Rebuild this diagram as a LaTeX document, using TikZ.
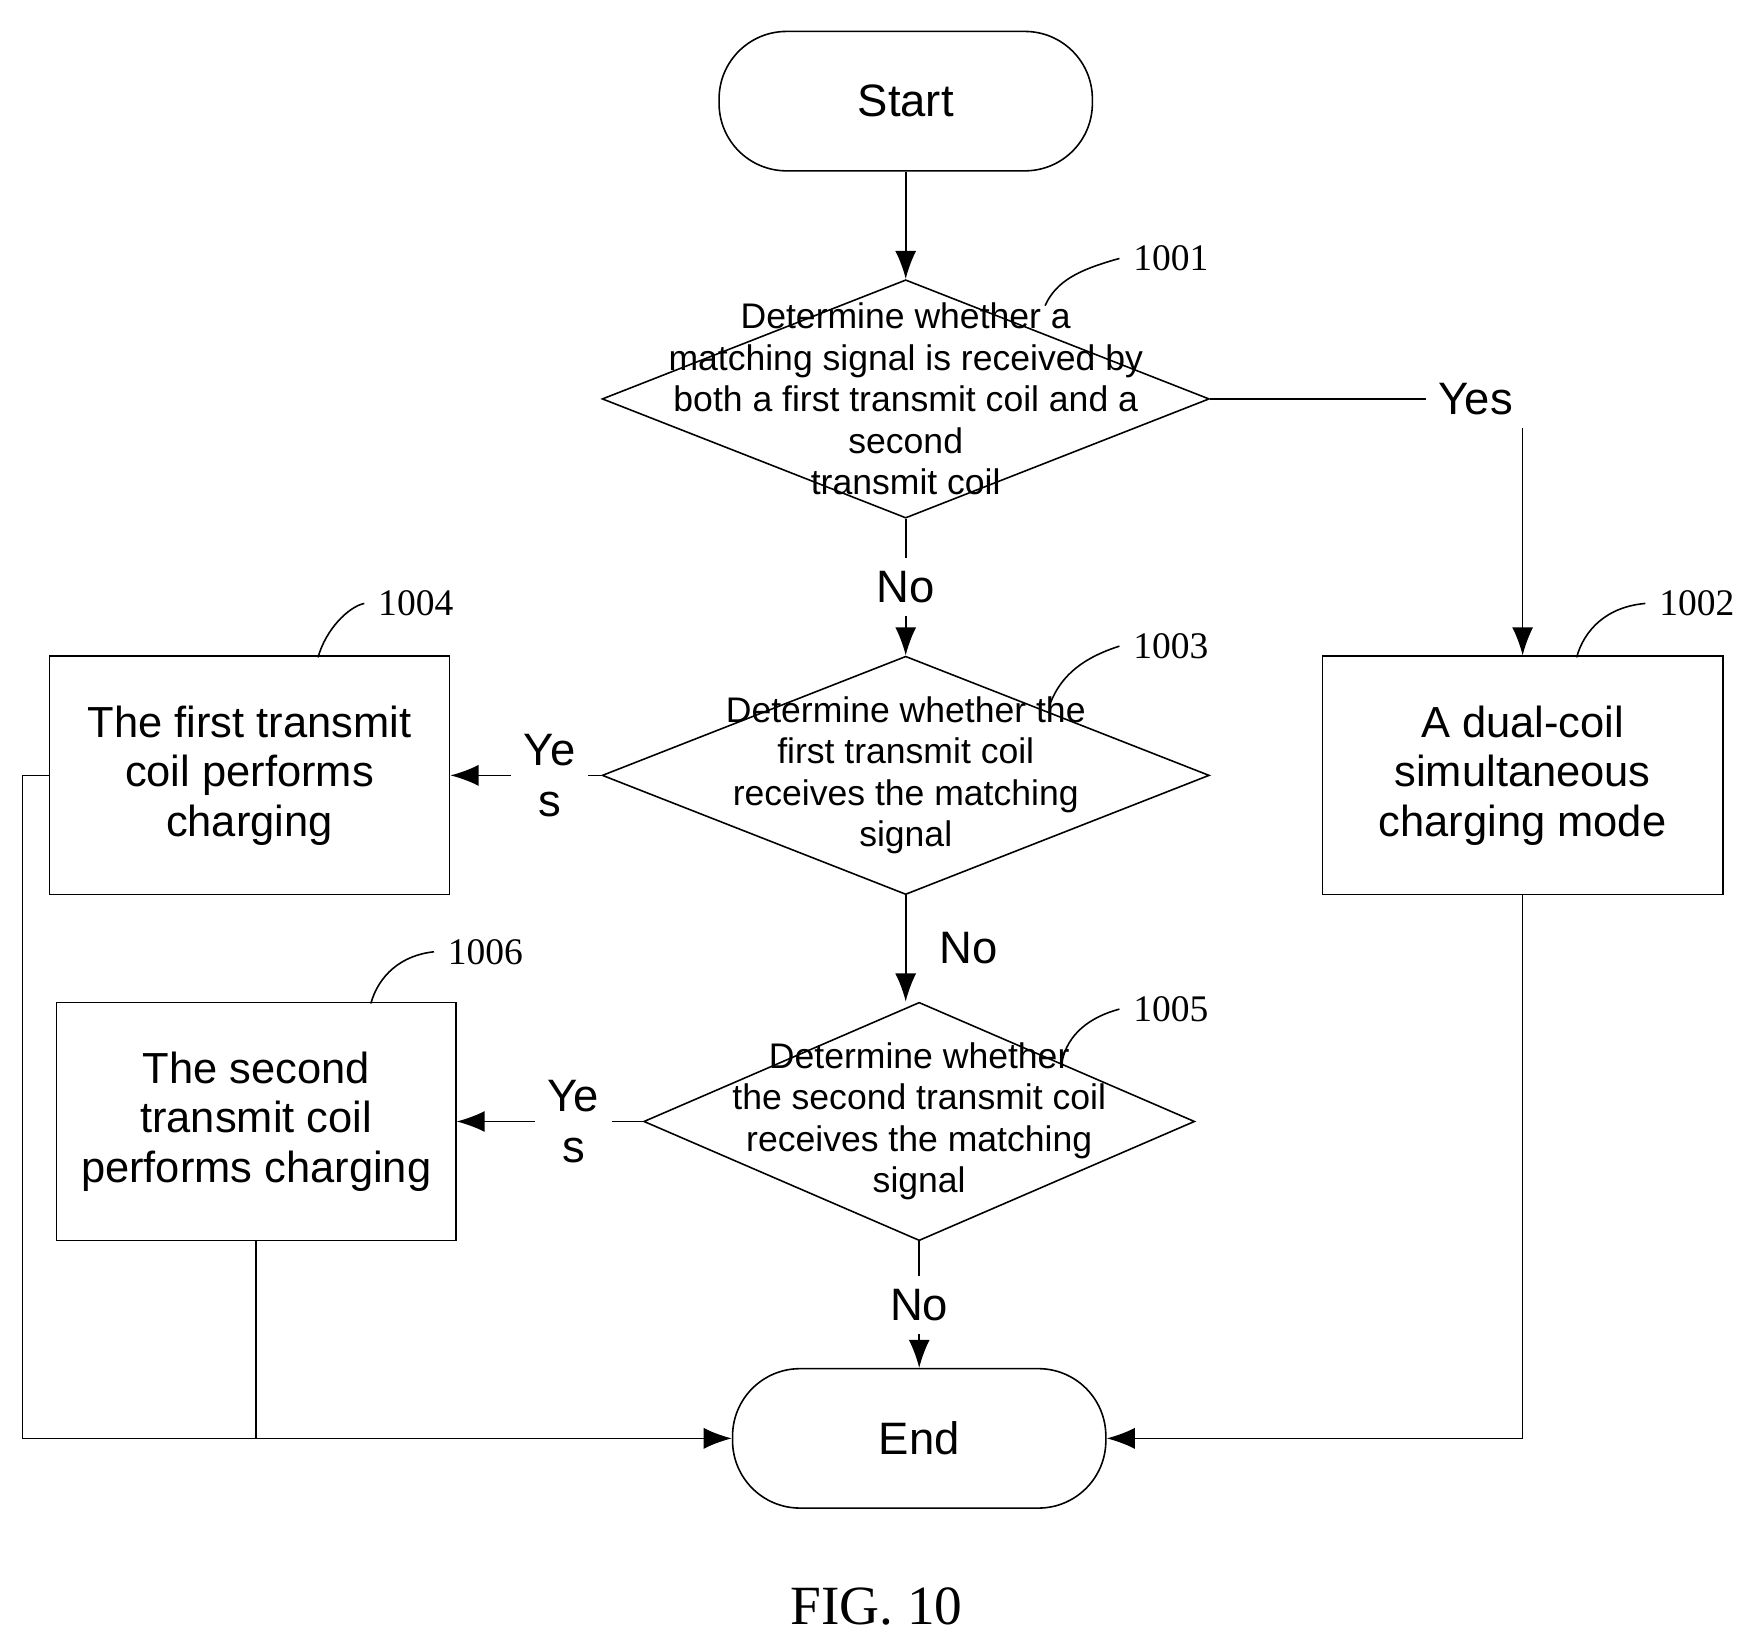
\documentclass[tikz,border=0pt]{standalone}
\usepackage{fontspec}
\setmainfont{Liberation Sans}
\newfontfamily\numfont{Liberation Serif}
\usetikzlibrary{shapes.geometric,arrows.meta}
\begin{document}
\begin{tikzpicture}[x=0.01cm, y=-0.01cm,
  term/.style={draw, rounded corners=0.6cm, minimum width=3.32cm, minimum height=1.24cm, font=\fontsize{11.5}{14}\selectfont},
  dec/.style={draw, diamond, minimum width=5.4cm, minimum height=2.12cm, inner sep=0pt},
  dtext/.style={align=center, font=\fontsize{9}{10.5}\selectfont},
  box/.style={draw, minimum width=3.56cm, minimum height=2.12cm, align=center, font=\fontsize{11}{12.5}\selectfont},
  tag/.style={font=\numfont\fontsize{9.5}{12}\selectfont},
  lbl/.style={font=\fontsize{11.5}{13}\selectfont},
  flow/.style={-{Latex[length=2.5mm]}},
  ]
\useasboundingbox (0,0) rectangle (1560,1454);
% terminals
\node (start) [term] at (806,90) {Start};
\node (end) [term] at (818,1280) {End};
% decisions
\node (d1) [dec] at (806,355) {};
\node [dtext] at (d1) {Determine whether a\\matching signal is received by\\both a first transmit coil and a\\second\\transmit coil};
\node (d3) [dec] at (806,690) {};
\node [dtext] at (d3) {Determine whether the\\first transmit coil\\receives the matching\\signal};
\node (d5) [dec, minimum width=4.9cm] at (818,998) {};
\node [dtext] at (d5) {Determine whether\\the second transmit coil\\receives the matching\\signal};
% actions
\node (b2) [box] at (1355,690) {A dual-coil\\simultaneous\\charging mode};
\node (b4) [box] at (222,690) {The first transmit\\coil performs\\charging};
\node (b6) [box, minimum width=3.55cm] at (228,998) {The second\\transmit coil\\performs charging};
% reference numerals
\node (t1) [tag] at (1042,230) {1001};
\node (t2) [tag] at (1510,537) {1002};
\node (t3) [tag] at (1042,575) {1003};
\node (t4) [tag] at (370,537) {1004};
\node (t5) [tag] at (1042,898) {1005};
\node (t6) [tag] at (432,847) {1006};
\draw (930,272) .. controls (940,250) and (960,240) .. (t1.west);
\draw (1403,585) .. controls (1410,560) and (1430,540) .. (t2.west);
\draw (935,625) .. controls (945,600) and (965,585) .. (t3.west);
\draw (283,585) .. controls (290,560) and (310,540) .. (t4.west);
\draw (945,945) .. controls (950,920) and (970,905) .. (t5.west);
\draw (330,893) .. controls (337,868) and (357,850) .. (t6.west);
% connectors
\draw[flow] (start) -- (d1);
\draw[flow] (d1.south) -- node[lbl, fill=white] {No} (d3.north);
\draw[flow] (d3.south) -- node[lbl, fill=white, xshift=16] {No} (d5.north -| d3.south);
\draw[flow] (d5) -- node[lbl, fill=white] {No} (end);
\draw[flow] (d1.east) -- node[lbl, pos=0.85, fill=white] {Yes} (1355,355) -- (b2.north);
\draw[flow] (d3.west) -- node[lbl, align=center, fill=white, xshift=6] {Ye\\s} (b4.east);
\draw[flow] (d5.west) -- node[lbl, align=center, fill=white, xshift=6] {Ye\\s} (b6.east);
\draw[flow] (b4.west) -- (20,690) -- (20,1280) -- (end.west);
\draw (b6.south) -- (228,1280);
\draw[flow] (b2.south) |- (end.east);
\node (fig) [font=\numfont\fontsize{14}{17}\selectfont] at (780,1430) {FIG. 10};
\end{tikzpicture}
\end{document}
